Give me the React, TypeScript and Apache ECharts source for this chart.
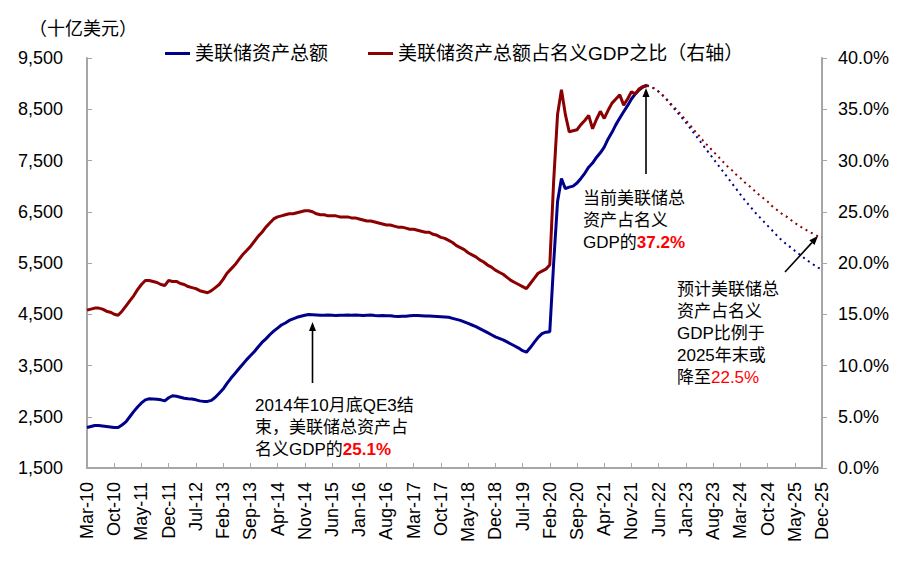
import React, { useEffect, useRef } from 'react';
import * as echarts from 'echarts';

const FONT = '"Liberation Sans", Arial, "Noto Sans CJK SC", sans-serif';

const MONTHS = ['Jan', 'Feb', 'Mar', 'Apr', 'May', 'Jun', 'Jul', 'Aug', 'Sep', 'Oct', 'Nov', 'Dec'];
// Mar-10 .. Dec-25 monthly
const categories: string[] = [];
for (let i = 0; i < 190; i++) {
  const m = (2 + i) % 12;
  const y = 10 + Math.floor((2 + i) / 12);
  categories.push(`${MONTHS[m]}-${String(y).padStart(2, '0')}`);
}

// Fed total assets, billions USD (Mar-10 .. Mar-22)
const assets = [
  2290, 2310, 2330, 2330, 2320, 2310, 2300, 2290, 2290, 2340,
  2400, 2500, 2600, 2690, 2770, 2830, 2850, 2845, 2840, 2830, 2810, 2870,
  2910, 2900, 2880, 2860, 2850, 2845, 2830, 2810, 2800, 2800, 2820, 2880,
  2960, 3040, 3150, 3250, 3340, 3430, 3520, 3610, 3690, 3770, 3860, 3950,
  4020, 4100, 4170, 4230, 4290, 4330, 4380, 4410, 4440, 4460, 4480, 4495,
  4490, 4485, 4480, 4480, 4485, 4480, 4475, 4480, 4480, 4485, 4480, 4485,
  4480, 4475, 4480, 4485, 4475, 4470, 4475, 4470, 4470, 4460, 4455, 4460,
  4460, 4470, 4475, 4475, 4470, 4465, 4465, 4460, 4455, 4450, 4445, 4440,
  4420, 4400, 4380, 4350, 4320, 4290, 4260, 4220, 4180, 4140, 4100, 4060,
  4030, 4000, 3960, 3920, 3880, 3840, 3790, 3760, 3850, 3950, 4050, 4120,
  4150, 4160, 5500, 6700, 7150, 6950, 6980, 7000, 7060, 7150, 7250, 7370,
  7450, 7560, 7650, 7760, 7920, 8050, 8200, 8330, 8450, 8570, 8700, 8800,
  8880, 8940, 8970,
];

// Fed total assets / nominal GDP, % (Mar-10 .. Mar-22)
const ratio = [
  15.4, 15.5, 15.6, 15.6, 15.5, 15.3, 15.2, 15.0, 14.9, 15.3,
  15.8, 16.3, 16.8, 17.4, 17.9, 18.3, 18.3, 18.2, 18.1, 17.9, 17.8, 18.3,
  18.2, 18.2, 18.0, 17.9, 17.7, 17.6, 17.5, 17.3, 17.2, 17.1, 17.3, 17.6,
  17.9, 18.4, 19.0, 19.4, 19.8, 20.3, 20.8, 21.2, 21.6, 22.1, 22.6, 23.0,
  23.5, 23.9, 24.3, 24.5, 24.6, 24.7, 24.8, 24.8, 24.9, 25.0, 25.1, 25.1,
  25.0, 24.8, 24.7, 24.7, 24.6, 24.6, 24.6, 24.5, 24.5, 24.5, 24.4, 24.4,
  24.3, 24.2, 24.1, 24.1, 24.0, 23.9, 23.8, 23.7, 23.7, 23.6, 23.5, 23.5,
  23.4, 23.3, 23.3, 23.2, 23.1, 23.0, 23.0, 22.8, 22.7, 22.5, 22.4, 22.2,
  22.0, 21.7, 21.5, 21.3, 21.0, 20.8, 20.6, 20.3, 20.1, 19.8, 19.6, 19.3,
  19.1, 18.9, 18.6, 18.3, 18.1, 17.9, 17.7, 17.5, 18.0, 18.5, 19.0, 19.2,
  19.4, 19.8, 28.0, 34.5, 36.9, 34.5, 32.8, 32.9, 33.0, 33.5, 33.9, 34.4,
  33.1, 34.0, 34.8, 34.1, 34.9, 35.6, 36.0, 36.4, 35.4, 36.0, 36.7, 36.5,
  37.0, 37.2, 37.3,
];

// Projections, Mar-22 .. Dec-25
const assetsProj = [
  8970, 8940, 8900, 8845, 8770, 8690, 8600, 8510, 8420, 8330,
  8240, 8140, 8040, 7940, 7840, 7740, 7640, 7540, 7440, 7340,
  7240, 7140, 7040, 6940, 6840, 6740, 6650, 6560, 6470, 6390,
  6310, 6230, 6150, 6070, 5990, 5920, 5860, 5800, 5740, 5680,
  5620, 5560, 5510, 5460, 5410, 5370,
];
const ratioProj = [
  37.3, 37.2, 37.0, 36.7, 36.4, 36.0, 35.6, 35.2, 34.8, 34.4,
  33.9, 33.5, 33.0, 32.6, 32.1, 31.7, 31.3, 30.9, 30.5, 30.1,
  29.7, 29.3, 29.0, 28.6, 28.3, 27.9, 27.6, 27.3, 26.9, 26.6,
  26.3, 26.0, 25.6, 25.3, 25.0, 24.7, 24.5, 24.2, 23.9, 23.7,
  23.4, 23.2, 23.0, 22.8, 22.6, 22.5,
];

const leftTicks = { min: 1500, max: 9500, interval: 1000 };
const rightTicks = { min: 0, max: 40, interval: 5 };

const NAME_A = '美联储资产总额';
const NAME_R = '美联储资产总额占名义GDP之比（右轴）';

function padEnd(arr: number[], total: number) {
  return arr.concat(new Array(total - arr.length).fill(null));
}
function padStart(arr: number[], total: number) {
  return new Array(total - arr.length).fill(null).concat(arr);
}

function arrow(x1: number, y1: number, x2: number, y2: number) {
  const a = Math.atan2(y2 - y1, x2 - x1);
  const L = 9, W = 3.5;
  const bx = x2 - L * Math.cos(a);
  const by = y2 - L * Math.sin(a);
  const px = -Math.sin(a), py = Math.cos(a);
  return [
    { type: 'line', silent: true, shape: { x1, y1, x2: bx, y2: by }, style: { stroke: '#000', lineWidth: 1.6 } },
    {
      type: 'polygon', silent: true,
      shape: { points: [[x2, y2], [bx + W * px, by + W * py], [bx - W * px, by - W * py]] },
      style: { fill: '#000' },
    },
  ];
}

function note(x: number, y: number, text: string, rich: any) {
  return {
    type: 'text', silent: true, x, y,
    style: {
      text, fill: '#000', font: `17px ${FONT}`, fontSize: 17, fontFamily: FONT,
      lineHeight: 22, verticalAlign: 'top', align: 'left', rich,
    },
  };
}

export default function App() {
  const ref = useRef<HTMLDivElement>(null);
  useEffect(() => {
    document.body.style.margin = '0';
    const chart = echarts.init(ref.current!, null, { renderer: 'svg' });
    const N = categories.length;
    const richBold = { r: { fill: '#FF0000', fontWeight: 'bold', fontSize: 17, fontFamily: FONT, lineHeight: 22 } };
    const richNorm = { r: { fill: '#FF0000', fontSize: 17, fontFamily: FONT, lineHeight: 22 } };
    chart.setOption({
      animation: false,
      backgroundColor: '#fff',
      textStyle: { fontFamily: FONT },
      grid: { left: 87, right: 94, top: 58, bottom: 100, containLabel: false },
      legend: {
        data: [{ name: NAME_A }, { name: NAME_R }],
        left: 160, top: 39, icon: 'rect', itemWidth: 25, itemHeight: 3, itemGap: 40,
        textStyle: { fontSize: 19, color: '#000', fontFamily: FONT },
      },
      xAxis: {
        type: 'category', data: categories, boundaryGap: false,
        axisLine: { lineStyle: { color: '#A6A6A6', width: 2 } },
        axisTick: { show: true, inside: true, interval: 6, length: 5, lineStyle: { color: '#A6A6A6' } },
        axisLabel: { interval: 6, rotate: 90, fontSize: 18, color: '#000', fontFamily: FONT, margin: 14 },
        splitLine: { show: false },
      },
      yAxis: [
        {
          type: 'value', position: 'left', ...leftTicks,
          splitLine: { show: false },
          axisLine: { show: true, lineStyle: { color: '#A6A6A6', width: 2 } },
          axisTick: { show: true, inside: true, length: 5, lineStyle: { color: '#A6A6A6' } },
          axisLabel: { formatter: (v: number) => v.toLocaleString('en-US'), fontSize: 18, color: '#000', fontFamily: FONT, margin: 24 },
        },
        {
          type: 'value', position: 'right', ...rightTicks,
          splitLine: { show: false },
          axisLine: { show: true, lineStyle: { color: '#A6A6A6', width: 2 } },
          axisTick: { show: true, inside: false, length: 5, lineStyle: { color: '#A6A6A6' } },
          axisLabel: { formatter: (v: number) => v.toFixed(1) + '%', fontSize: 18, color: '#000', fontFamily: FONT, margin: 16 },
        },
      ],
      series: [
        {
          name: NAME_A, type: 'line', yAxisIndex: 0, data: padEnd(assets, N), showSymbol: false,
          lineStyle: { color: '#00008B', width: 3 }, itemStyle: { color: '#00008B' }, z: 3,
        },
        {
          name: NAME_R, type: 'line', yAxisIndex: 1, data: padEnd(ratio, N), showSymbol: false,
          lineStyle: { color: '#8B0000', width: 3 }, itemStyle: { color: '#8B0000' }, z: 4,
        },
        {
          name: '资产预测', type: 'line', yAxisIndex: 0, data: padStart(assetsProj, N), showSymbol: false,
          lineStyle: { color: '#00008B', width: 2, type: [2, 4] }, itemStyle: { color: '#00008B' }, z: 2,
        },
        {
          name: '占比预测', type: 'line', yAxisIndex: 1, data: padStart(ratioProj, N), showSymbol: false,
          lineStyle: { color: '#8B0000', width: 2, type: [2, 4] }, itemStyle: { color: '#8B0000' }, z: 2,
        },
      ],
      graphic: [
        {
          type: 'text', silent: true, x: 29, y: 29,
          style: { text: '（十亿美元）', fill: '#000', fontSize: 18, fontFamily: FONT, verticalAlign: 'middle', align: 'left' },
        },
        ...arrow(312.5, 383, 312.5, 322),
        note(255, 394, '2014年10月底QE3结\n束，美联储总资产占\n名义GDP的{r|25.1%}', richBold),
        ...arrow(646, 174, 646, 88),
        note(583, 187, '当前美联储总\n资产占名义\nGDP的{r|37.2%}', richBold),
        ...arrow(785, 272, 818, 236),
        note(677, 278, '预计美联储总\n资产占名义\nGDP比例于\n2025年末或\n降至{r|22.5%}', richNorm),
      ],
    });
    return () => chart.dispose();
  }, []);
  return <div ref={ref} style={{ width: 916, height: 568 }} />;
}
